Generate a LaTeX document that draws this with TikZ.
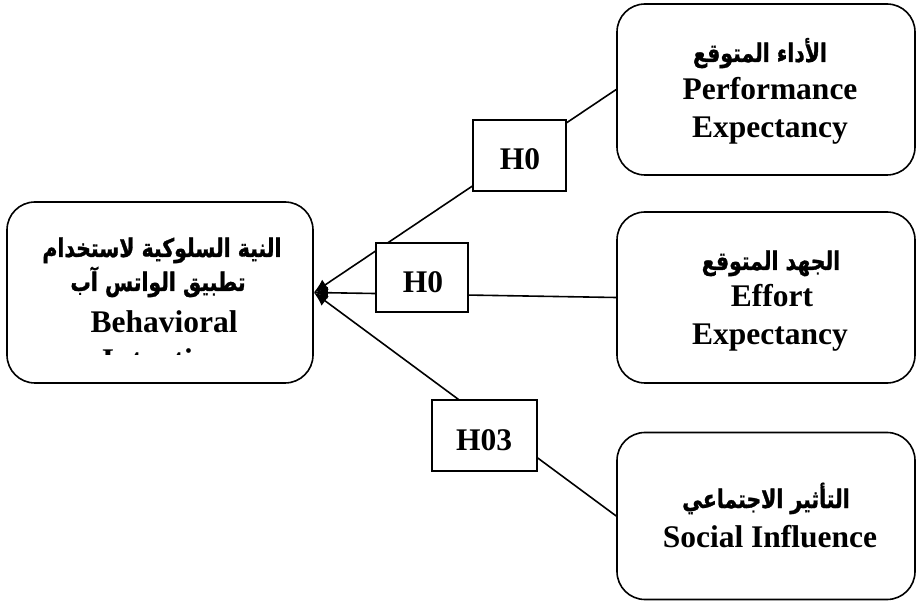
\documentclass[tikz,border=0pt]{standalone}
\usepackage{fontspec}
\setmainfont{Liberation Serif}
\newfontfamily\arabicfont[Script=Arabic,FakeStretch=0.8,FakeBold=1.2]{DejaVu Sans}
\TeXXeTstate=1
\usetikzlibrary{arrows.meta}
\tikzset{
  bigbox/.style={draw, line width=1.6pt, rounded corners=28pt, inner sep=0pt},
  hbox/.style={draw, line width=1.4pt, fill=white, inner sep=0pt},
  en/.style={anchor=base, inner sep=0pt, font=\fontsize{31.5}{38}\selectfont\bfseries},
  ar/.style={anchor=base, inner sep=0pt, font=\fontsize{25.5}{30}\selectfont\bfseries\arabicfont},
  link/.style={line width=1.6pt, -{Latex[length=14pt,width=12pt]}}
}
\begin{document}
\begin{tikzpicture}[x=1pt,y=-1pt]
\useasboundingbox (0,0) rectangle (916,601);
% main boxes
\node[bigbox, minimum width=306pt, minimum height=181pt] (L) at (160,292.5) {};
\node[bigbox, minimum width=298pt, minimum height=171pt] (PE) at (766,89.5) {};
\node[bigbox, minimum width=298pt, minimum height=171pt] (EE) at (766,297.5) {};
\node[bigbox, minimum width=298pt, minimum height=167pt] (SI) at (766,516) {};
% connectors
\draw[link] (PE.west) -- (L.east);
\draw[link] (EE.west) -- (L.east);
\draw[link] (SI.west) -- (L.east);
% hypothesis boxes
\node[hbox, minimum width=93pt, minimum height=71pt] (H1) at (519.5,155.5) {};
\node[hbox, minimum width=92pt, minimum height=69pt] (H2) at (422,277.5) {};
\node[hbox, minimum width=105pt, minimum height=71pt] (H3) at (484.5,435.5) {};
\node[en] (h1t) at (520,170) {H0};
\node[en] (h2t) at (423,293) {H0};
\node[en] (h3t) at (484,450) {H03};
% left box text
\node[ar] (la1) at (162,257) {\beginR النية السلوكية لاستخدام\endR};
\node[ar] (la2) at (158,291) {\beginR تطبيق الواتس آب\endR};
\node[en] (le1) at (164,333) {Behavioral};
\begin{scope}
\clip (20,340) rectangle (300,355);
\node[en] (le2) at (164,371) {Intention};
\end{scope}
% right boxes text
\node[ar] (pa) at (760,62) {\beginR الأداء المتوقع\endR};
\node[en] (pe1) at (770,100) {Performance};
\node[en] (pe2) at (770,138) {Expectancy};
\node[ar] (ea) at (771,270) {\beginR الجهد المتوقع\endR};
\node[en] (ee1) at (772,307) {Effort};
\node[en] (ee2) at (770,345) {Expectancy};
\node[ar] (sa) at (766,508) {\beginR التأثير الاجتماعي\endR};
\node[en] (se1) at (770,547) {Social Influence};
\end{tikzpicture}
\end{document}
